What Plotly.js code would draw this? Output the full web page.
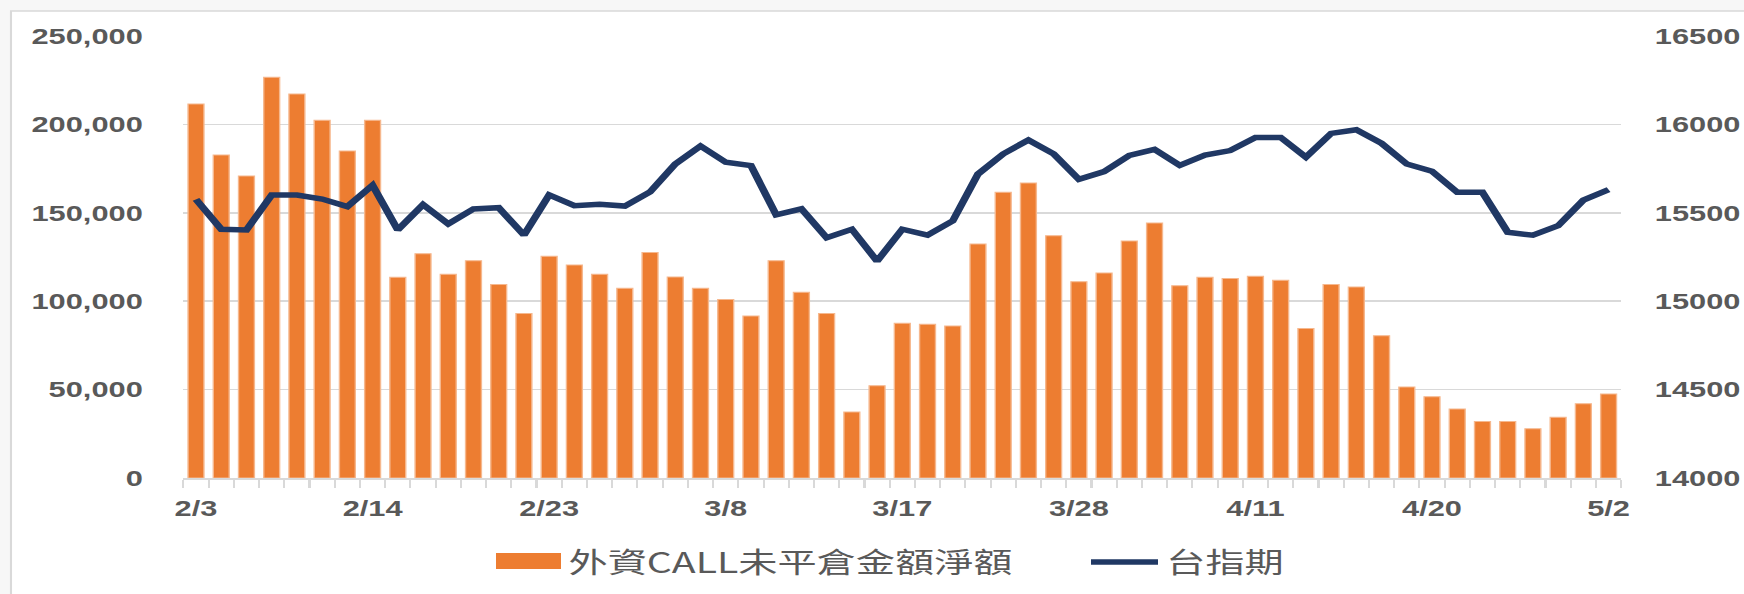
<!DOCTYPE html>
<html>
<head>
<meta charset="utf-8">
<script src="https://cdn.plot.ly/plotly-3.0.1.min.js"></script>
<style>
  html, body { margin: 0; padding: 0; background: #ffffff; overflow: hidden; }
  #chart { width: 1246px; height: 594px; transform: scaleX(1.4); transform-origin: 0 0; }
</style>
</head>
<body>
<div id="chart"></div>
<script>
// ---- data ----
const dates = ['2/3','2/6','2/7','2/8','2/9','2/10','2/13','2/14','2/15','2/16','2/17','2/20','2/21','2/22','2/23','2/24',
  '3/1','3/2','3/3','3/6','3/7','3/8','3/9','3/10','3/13','3/14','3/15','3/16','3/17','3/20','3/21','3/22','3/23','3/24',
  '3/27','3/28','3/29','3/30','3/31','4/6','4/7','4/10','4/11','4/12','4/13','4/14','4/17','4/18','4/19','4/20','4/21',
  '4/24','4/25','4/26','4/27','4/28','5/2'];
const shownTickLabels = ['2/3','2/14','2/23','3/8','3/17','3/28','4/11','4/20','5/2'];
const callNet = [211500,182700,170800,226600,217200,202300,185000,202300,113500,126900,115200,122900,109500,93100,125400,
  120500,115200,107300,127600,113700,107300,101000,91600,122900,105000,93100,37300,52200,87500,86900,86000,132400,161600,
  166800,137000,111000,116000,134000,144200,108800,113500,112800,114100,111800,84500,109500,108000,80500,51500,46000,
  39000,31900,31900,27900,34300,42000,47500];
const txf = [15576,15407,15403,15601,15600,15578,15535,15656,15403,15546,15437,15522,15529,15374,15601,15540,15548,15538,
  15618,15776,15878,15786,15767,15488,15522,15359,15407,15227,15407,15374,15454,15719,15833,15912,15833,15689,15733,15824,
  15859,15768,15826,15852,15926,15926,15815,15949,15970,15893,15776,15735,15616,15616,15390,15373,15427,15572,15631];
const barName = '外資CALL未平倉金額淨額';
const lineName = '台指期';

// ---- layout helpers (pixel positions in the stretched picture) ----
const S = 1.4, W = 1246, H = 594;
const L = 131, R = 88, T = 36, B = 116;
const PW = W - L - R, PH = H - T - B;
const px = v => (v / S - L) / PW;
const py = v => (H - B - v) / PH;

const grey = '#595959';
const tickFont = { family: '"Liberation Sans", Arial, sans-serif', size: 22, color: grey, weight: 'bold' };
const legFont = { family: '"Noto Sans CJK TC", "Noto Sans CJK SC", sans-serif', size: 28, color: grey };

const traces = [
  { type: 'bar', name: barName, x: dates, y: callNet, yaxis: 'y',
    marker: { color: '#ED7D31', line: { color: '#F6B88E', width: 1 } }, hoverinfo: 'x+y' },
  { type: 'scatter', mode: 'lines', name: lineName, x: dates, y: txf, yaxis: 'y2',
    line: { color: '#203864', width: 5.5, shape: 'linear' }, hoverinfo: 'x+y' }
];

const layout = {
  width: W, height: H,
  margin: { l: L, r: R, t: T, b: B, pad: 0 },
  paper_bgcolor: '#f7f7f7',
  plot_bgcolor: 'rgba(0,0,0,0)',
  showlegend: false,
  bargap: 0.37,
  xaxis: {
    type: 'category', range: [-0.5, dates.length - 0.5],
    tickmode: 'array', tickvals: dates,
    ticktext: dates.map(d => shownTickLabels.includes(d) ? d : ''),
    tickson: 'boundaries', ticks: 'outside', ticklen: 8, tickcolor: '#d9d9d9', tickwidth: 1.5,
    showline: true, linecolor: '#d9d9d9', linewidth: 1.5,
    showgrid: false, zeroline: false, tickangle: 0,
    tickfont: tickFont, ticklabelstandoff: 10
  },
  yaxis: {
    range: [0, 250000], dtick: 50000, tick0: 0, tickformat: ',d',
    showgrid: true, gridcolor: '#d9d9d9', gridwidth: 1.5,
    zeroline: false, showline: false, ticks: '',
    tickfont: tickFont, ticklabelstandoff: 28
  },
  yaxis2: {
    overlaying: 'y', side: 'right',
    range: [14000, 16500], dtick: 500, tick0: 14000, tickformat: 'd',
    showgrid: false, zeroline: false, showline: false, ticks: '',
    tickfont: tickFont, ticklabelstandoff: 23
  },
  shapes: [
    // chart frame
    { type: 'rect', xref: 'paper', yref: 'paper', layer: 'below',
      x0: px(11), x1: px(1760), y0: py(610), y1: py(11),
      fillcolor: '#ffffff', line: { color: '#d9d9d9', width: 1.5 } },
    // legend swatches
    { type: 'rect', xref: 'paper', yref: 'paper',
      x0: px(496), x1: px(561), y0: py(569), y1: py(553),
      fillcolor: '#ED7D31', line: { width: 0 } },
    { type: 'line', xref: 'paper', yref: 'paper',
      x0: px(1091), x1: px(1158), y0: py(562), y1: py(562),
      line: { color: '#203864', width: 5.5 } }
  ],
  annotations: [
    { xref: 'paper', yref: 'paper', x: px(566), y: py(561), xanchor: 'left', yanchor: 'middle',
      text: barName, showarrow: false, font: legFont },
    { xref: 'paper', yref: 'paper', x: px(1163), y: py(561), xanchor: 'left', yanchor: 'middle',
      text: lineName, showarrow: false, font: legFont }
  ]
};

Plotly.newPlot('chart', traces, layout, { displayModeBar: false, staticPlot: true });
</script>
</body>
</html>
